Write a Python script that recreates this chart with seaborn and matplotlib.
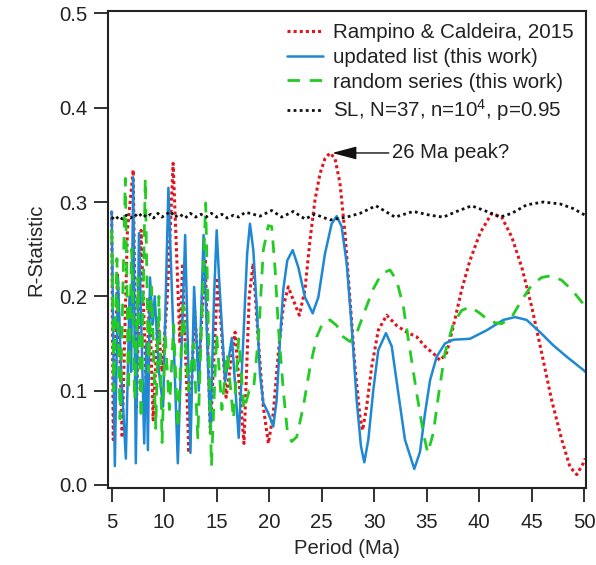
import matplotlib
matplotlib.use("Agg")
import matplotlib.pyplot as plt
import seaborn as sns
import pandas as pd

# ---------------- data ----------------
rc_x = [5.0, 5.15, 5.55, 6.0, 6.5, 7.05, 7.35, 7.8, 8.3, 8.6, 8.95, 9.4, 9.8, 10.3, 10.85,
        11.1, 11.5, 11.75, 12.35, 12.9, 13.3, 13.9, 14.4, 15.1, 15.9, 16.75, 17.6, 18.1,
        18.47, 18.96, 19.44, 19.92, 20.39, 20.87, 21.34, 21.82, 22.30, 22.87, 23.41, 23.89,
        24.36, 24.84, 25.31, 25.79, 26.27, 26.74, 27.22, 27.70, 28.17, 28.65, 28.90, 29.28,
        29.76, 30.39, 31.19, 32.14, 33.10, 34.05, 35.0, 35.6, 36.27, 36.90, 37.53, 38.33,
        39.12, 40.08, 41.19, 42.14, 43.10, 44.05, 45.0, 45.95, 46.90, 47.86, 48.65, 49.29,
        49.91, 50.1]
rc_y = [0.290, 0.048, 0.225, 0.050, 0.270, 0.334, 0.080, 0.270, 0.100, 0.200, 0.069, 0.175,
        0.120, 0.200, 0.341, 0.270, 0.150, 0.235, 0.034, 0.185, 0.120, 0.240, 0.055, 0.220,
        0.093, 0.162, 0.044, 0.200, 0.235, 0.154, 0.083, 0.044, 0.076, 0.140, 0.189, 0.210,
        0.196, 0.180, 0.207, 0.260, 0.302, 0.330, 0.346, 0.352, 0.346, 0.320, 0.267, 0.196,
        0.125, 0.072, 0.058, 0.083, 0.125, 0.164, 0.180, 0.169, 0.162, 0.157, 0.145, 0.140,
        0.132, 0.140, 0.168, 0.207, 0.238, 0.267, 0.288, 0.284, 0.263, 0.231, 0.189, 0.140,
        0.090, 0.048, 0.019, 0.011, 0.023, 0.028]

up_x = [5.0, 5.3, 5.6, 5.9, 6.35, 6.7, 6.85, 7.05, 7.3, 7.6, 8.1, 8.3, 8.45, 8.65, 8.9,
        9.1, 9.5, 9.9, 10.4, 10.6, 11.3, 12.0, 12.5, 12.85, 13.3, 13.75, 14.4, 14.75, 15.0,
        15.25, 15.8, 16.45, 17.1, 17.6, 17.9, 18.17, 18.49, 18.81, 19.12, 19.44, 19.92,
        20.39, 20.71, 21.03, 21.34, 21.72, 22.24, 22.77, 23.41, 24.14, 24.68, 25.31, 25.95,
        26.43, 26.90, 27.38, 27.86, 28.33, 28.74, 29.06, 29.44, 29.92, 30.39, 31.12, 31.67,
        32.30, 32.93, 33.82, 34.36, 34.84, 35.32, 35.95, 36.74, 37.53, 39.12, 40.71, 42.30,
        43.41, 44.52, 45.79, 47.06, 48.33, 49.91, 50.1]
up_y = [0.290, 0.020, 0.220, 0.120, 0.028, 0.200, 0.120, 0.326, 0.023, 0.267, 0.044, 0.150,
        0.037, 0.220, 0.170, 0.200, 0.120, 0.083, 0.315, 0.250, 0.023, 0.265, 0.034, 0.210,
        0.100, 0.265, 0.055, 0.200, 0.270, 0.215, 0.110, 0.156, 0.050, 0.170, 0.245, 0.277,
        0.249, 0.189, 0.118, 0.087, 0.076, 0.062, 0.090, 0.154, 0.207, 0.238, 0.249, 0.231,
        0.199, 0.182, 0.199, 0.245, 0.277, 0.285, 0.274, 0.235, 0.168, 0.090, 0.041, 0.024,
        0.048, 0.101, 0.143, 0.161, 0.147, 0.097, 0.048, 0.017, 0.035, 0.076, 0.111, 0.136,
        0.150, 0.154, 0.155, 0.164, 0.175, 0.178, 0.175, 0.162, 0.148, 0.136, 0.122, 0.120]

rs_x = [5.0, 5.2, 5.5, 5.8, 6.3, 6.6, 6.9, 7.2, 7.5, 7.8, 8.2, 8.5, 8.8, 9.2, 9.5, 9.8,
        10.1, 10.5, 10.9, 11.3, 11.8, 12.3, 12.8, 13.2, 13.95, 14.5, 15.0, 15.5, 16.0, 16.6,
        17.1, 17.6, 18.1, 18.5, 19.0, 19.44, 19.92, 20.24, 20.55, 20.87, 21.34, 21.72,
        22.14, 22.62, 23.25, 23.89, 24.52, 25.15, 25.79, 26.43, 27.06, 27.70, 28.33, 29.12,
        29.92, 30.71, 31.50, 32.14, 32.78, 33.41, 34.05, 34.68, 35.10, 35.63, 36.11, 36.74,
        37.53, 38.33, 39.12, 40.08, 41.03, 42.14, 43.10, 44.05, 45.0, 45.95, 46.90, 47.86,
        48.81, 49.91, 50.1]
rs_y = [0.270, 0.100, 0.240, 0.070, 0.325, 0.100, 0.250, 0.090, 0.220, 0.070, 0.325, 0.120,
        0.210, 0.060, 0.200, 0.045, 0.160, 0.080, 0.170, 0.060, 0.190, 0.100, 0.150, 0.050,
        0.299, 0.020, 0.160, 0.080, 0.140, 0.070, 0.155, 0.080, 0.100, 0.100, 0.160, 0.249,
        0.275, 0.274, 0.231, 0.168, 0.101, 0.058, 0.046, 0.051, 0.083, 0.125, 0.157, 0.173,
        0.175, 0.169, 0.157, 0.152, 0.161, 0.185, 0.208, 0.224, 0.228, 0.217, 0.189, 0.143,
        0.097, 0.055, 0.034, 0.055, 0.094, 0.140, 0.171, 0.185, 0.189, 0.182, 0.173, 0.171,
        0.178, 0.196, 0.212, 0.220, 0.222, 0.217, 0.207, 0.192, 0.189]

sl_x = [5.0, 5.3, 5.7, 6.0, 6.4, 6.8, 7.2, 7.5, 7.9, 8.3, 8.7, 9.0, 9.4, 9.8, 10.2, 10.6,
        11.0, 11.5, 12.0, 12.5, 13.0, 13.5, 14.0, 14.5, 15.0, 15.5, 16.0, 16.6, 17.1, 17.7,
        18.17, 19.12, 20.24, 21.19, 22.3, 23.41, 24.36, 25.79, 27.38, 28.65, 30.17, 31.98,
        33.72, 35.32, 36.58, 37.85, 39.29, 40.71, 41.98, 43.1, 44.52, 46.1, 47.7, 48.96,
        49.76, 50.1]
sl_y = [0.284, 0.281, 0.285, 0.282, 0.286, 0.283, 0.287, 0.284, 0.288, 0.284, 0.287, 0.283,
        0.288, 0.284, 0.287, 0.290, 0.284, 0.287, 0.283, 0.288, 0.284, 0.287, 0.284, 0.288,
        0.284, 0.287, 0.283, 0.286, 0.284, 0.289, 0.288, 0.285, 0.291, 0.284, 0.290, 0.282,
        0.287, 0.281, 0.284, 0.288, 0.296, 0.284, 0.290, 0.286, 0.284, 0.290, 0.296, 0.290,
        0.284, 0.288, 0.297, 0.300, 0.298, 0.293, 0.288, 0.286]

labels = ["Rampino & Caldeira, 2015", "updated list (this work)",
          "random series (this work)", "SL, N=37, n=10$^4$, p=0.95"]
x_ticks = [5, 10, 15, 20, 25, 30, 35, 40, 45, 50]
y_ticks = [0.0, 0.1, 0.2, 0.3, 0.4, 0.5]
peak_label = "26 Ma peak?"
peak_xy = (26.0, 0.352)
peak_text_xy = (31.7, 0.352)

# ---------------- styling ----------------
sns.set_theme(style="ticks")
plt.rcParams["font.family"] = ["Liberation Sans", "DejaVu Sans"]
plt.rcParams["mathtext.default"] = "regular"
plt.rcParams["text.color"] = "#222222"
FS = 14.6

fig = plt.figure(figsize=(5.96, 5.65), dpi=100)
ax = fig.add_axes([0.1812, 0.1363, 0.9832 - 0.1812, 0.981 - 0.1363])

series = [
    (rc_x, rc_y, labels[0], "#e3141b", (0, (1, 1)), 2.2),
    (up_x, up_y, labels[1], "#1e88d4", "-", 1.8),
    (rs_x, rs_y, labels[2], "#22cc22", (0, (4.5, 3.5)), 2.0),
    (sl_x, sl_y, labels[3], "#111111", (0, (1, 1.2)), 2.0),
]
for xs, ys, lab, col, ls, lw in series:
    df = pd.DataFrame({"x": xs, "y": ys})
    sns.lineplot(data=df, x="x", y="y", ax=ax, color=col, linewidth=lw,
                 linestyle=ls, label=lab, estimator=None, sort=False)

ax.set_xlim(4.65, 50.17)
ax.set_ylim(-0.0032, 0.5028)
ax.set_xticks(x_ticks)
ax.set_xticklabels([str(t) for t in x_ticks])
ax.set_yticks(y_ticks)
ax.set_yticklabels([f"{t:.1f}" for t in y_ticks])
ax.tick_params(axis="both", direction="out", length=10, width=1.3, labelsize=FS,
               colors="#222222", pad=5)
ax.tick_params(axis="x", pad=8)
for sp in ax.spines.values():
    sp.set_linewidth(1.5)
    sp.set_color("#222222")
    sp.set_visible(True)

ax.set_xlabel("Period (Ma)", fontsize=FS, labelpad=5)
ax.set_ylabel("R-Statistic", fontsize=FS, labelpad=10)

ax.annotate(peak_label, xy=peak_xy, xytext=peak_text_xy, fontsize=FS, va="center",
            ha="left",
            arrowprops=dict(arrowstyle="-|>,head_length=0.75,head_width=0.2",
                            color="#111111", lw=1.0, mutation_scale=20,
                            shrinkA=0, shrinkB=0))

leg = ax.legend(loc="upper right", bbox_to_anchor=(1.0, 1.0), frameon=False,
                fontsize=14.8, handlelength=1.75, handletextpad=0.5,
                labelspacing=0.28, borderaxespad=0.2)

fig.savefig("out.png", dpi=100, facecolor="white")
